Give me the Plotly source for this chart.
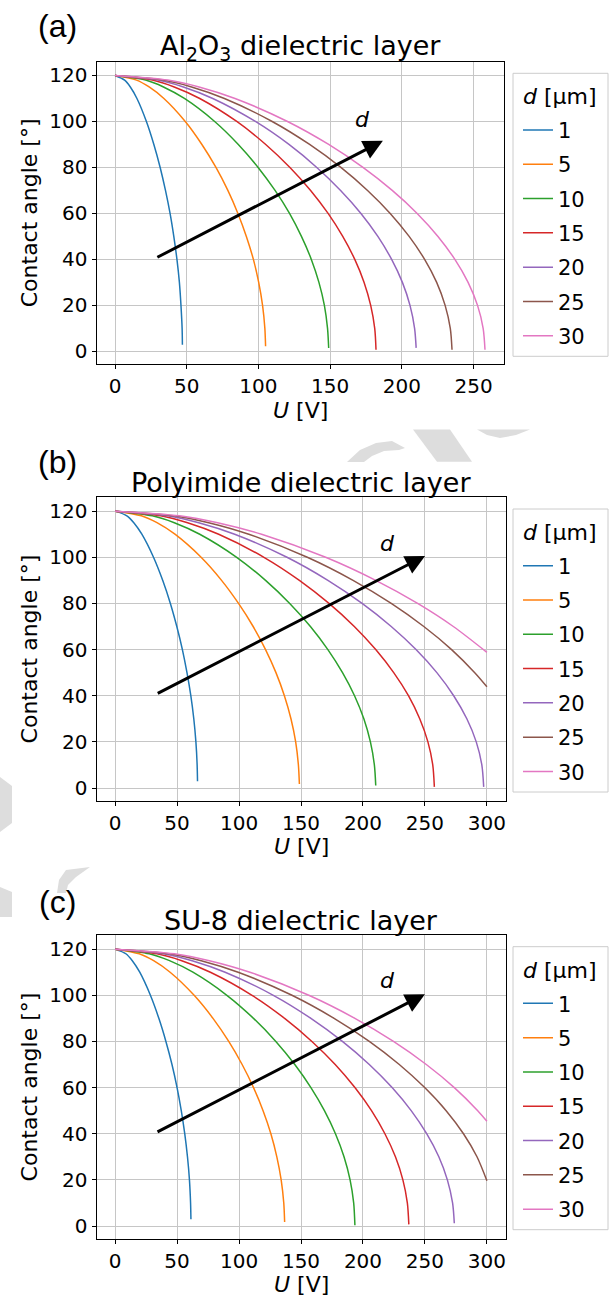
import plotly.graph_objects as go

# ---------------- data ----------------
thickness_um = [1, 5, 10, 15, 20, 25, 30]
colors = ["#1f77b4", "#ff7f0e", "#2ca02c", "#d62728", "#9467bd", "#8c564b", "#e377c2"]

angle_steps = [120, 118, 115, 110, 100, 90, 80, 70, 60, 50, 40, 30, 20, 10]

# ---- (a) Al2O3 ----
al2o3_voltage = [
    [0, 6.7, 10.7, 15.3, 21.9, 27.1, 31.5, 35.2, 38.4, 41.0, 43.2, 44.9, 46.0, 46.8, 47.0],
    [0, 15.0, 23.8, 34.1, 49.0, 60.6, 70.4, 78.7, 85.7, 91.6, 96.5, 100.2, 102.9, 104.5, 105.0],
    [0, 21.3, 33.8, 48.4, 69.5, 86.0, 99.8, 111.6, 121.7, 130.0, 136.9, 142.2, 146.0, 148.2, 149.0],
    [0, 26.0, 41.3, 59.1, 84.9, 105.1, 122.0, 136.4, 148.6, 158.8, 167.2, 173.7, 178.3, 181.1, 182.0],
    [0, 30.0, 47.7, 68.2, 97.9, 121.3, 140.7, 157.3, 171.5, 183.3, 192.9, 200.4, 205.7, 208.9, 210.0],
    [0, 33.5, 53.4, 76.3, 109.6, 135.7, 157.5, 176.1, 191.9, 205.1, 215.9, 224.3, 230.2, 233.8, 235.0],
    [0, 36.8, 58.6, 83.7, 120.3, 149.0, 172.9, 193.3, 210.7, 225.2, 237.0, 246.2, 252.8, 256.7, 258.0],
]
al2o3_end_angle = [2.9, 2.2, 1.5, 0.7, 1.5, 0.7, 0.7]

# ---- (b) Polyimide ----
polyimide_voltage = [
    [0, 9.5, 15.1, 21.6, 31.0, 38.4, 44.6, 49.8, 54.3, 58.0, 61.1, 63.5, 65.2, 66.2, 66.5],
    [0, 21.2, 33.8, 48.3, 69.4, 85.9, 99.6, 111.4, 121.4, 129.8, 136.6, 141.9, 145.7, 147.9, 148.7],
    [0, 30.0, 47.8, 68.3, 98.1, 121.4, 140.9, 157.6, 171.7, 183.5, 193.2, 200.7, 206.0, 209.2, 210.3],
    [0, 36.8, 58.5, 83.6, 120.1, 148.7, 172.6, 193.0, 210.3, 224.8, 236.7, 245.8, 252.4, 256.3, 257.6],
    [0, 42.4, 67.5, 96.5, 138.7, 171.7, 199.3, 222.8, 242.8, 259.6, 273.2, 283.8, 291.4, 295.9, 297.4],
    [0, 47.4, 75.5, 107.9, 155.1, 192.0, 222.8, 249.1, 271.5, 290.2, 300.0],
    [0, 52.0, 82.7, 118.2, 169.9, 210.3, 244.1, 272.9, 300.0],
]
polyimide_end_angle = [2.9, 1.7, 1.1, 0.5, 0.5, 43.9, 58.8]

# ---- (c) SU-8 ----
su8_voltage = [
    [0, 8.7, 13.9, 19.9, 28.5, 35.3, 41.0, 45.9, 50.0, 53.4, 56.2, 58.4, 60.0, 60.9, 61.2],
    [0, 19.5, 31.1, 44.4, 63.8, 79.0, 91.7, 102.5, 111.7, 119.4, 125.7, 130.5, 134.0, 136.1, 136.8],
    [0, 27.6, 43.9, 62.8, 90.2, 111.7, 129.7, 145.0, 158.0, 168.9, 177.8, 184.7, 189.6, 192.5, 193.5],
    [0, 33.8, 53.8, 76.9, 110.5, 136.8, 158.8, 177.6, 193.5, 206.9, 217.7, 226.2, 232.2, 235.8, 237.0],
    [0, 39.1, 62.2, 88.8, 127.7, 158.0, 183.4, 205.1, 223.5, 238.9, 251.4, 261.2, 268.1, 272.3, 273.7],
    [0, 43.7, 69.5, 99.3, 142.7, 176.7, 205.1, 229.3, 249.8, 267.1, 281.1, 292.0, 300.0],
    [0, 47.8, 76.1, 108.8, 156.3, 193.5, 224.6, 251.1, 273.7, 292.6, 300.0],
]
su8_end_angle = [2.9, 1.7, 0.3, 0.7, 1.2, 19.6, 45.4]

panel_titles = ["Al<sub>2</sub>O<sub>3</sub> dielectric layer",
                "Polyimide dielectric layer",
                "SU-8 dielectric layer"]
panel_labels = ["(a)", "(b)", "(c)"]
legend_title = "<i>d</i> [µm]"
x_ranges = [[-12.9, 270.9], [-15, 315], [-15, 315]]
y_range = [-5.5, 126]

# arrow tail / head and "d" label positions, in data units
arrow_tail = [(28.5, 40.6), (33.2, 40.7), (33.0, 40.5)]
arrow_head = [(186.8, 91.6), (250.1, 100.6), (250.0, 100.5)]
arrow_label = [(172.8, 101), (220, 106), (220, 106.5)]

# ---------------- layout geometry (pixels) ----------------
W, H = 611, 1300
plot_left = 96.5
plot_rights = [503.5, 505.5, 505.5]
plot_tops = [61.7, 497.3, 935.3]
plot_bottoms = [364.0, 800.7, 1238.7]
legend_box_x = (513, 608)
legend_box_tops = [73.3, 509, 946.7]
legend_box_h = 283
label_y = [26, 462, 902]

FONT = "DejaVu Sans"

fig = go.Figure()
datasets = [(al2o3_voltage, al2o3_end_angle),
            (polyimide_voltage, polyimide_end_angle),
            (su8_voltage, su8_end_angle)]

for p, (volts, ends) in enumerate(datasets):
    sfx = "" if p == 0 else str(p + 1)
    leg = "legend" + sfx
    for i, d in enumerate(thickness_um):
        u = volts[i]
        ang = angle_steps[:len(u) - 1] + [ends[i]]
        fig.add_trace(go.Scatter(
            x=u, y=ang, mode="lines", name=str(d),
            line=dict(color=colors[i], width=1.5, shape="spline", smoothing=0.8),
            xaxis="x" + sfx, yaxis="y" + sfx, legend=leg,
            legendgroup=f"g{p}_{i}", hoverinfo="skip"))

layout = dict(
    width=W, height=H, margin=dict(l=0, r=0, t=0, b=0, autoexpand=False),
    paper_bgcolor="white", plot_bgcolor="white",
    font=dict(family=FONT, size=20, color="black"),
    showlegend=True,
)


def px(x, y):
    return x / W, 1 - y / H


annotations = []
shapes = []
for p in range(3):
    sfx = "" if p == 0 else str(p + 1)
    xd = [plot_left / W, plot_rights[p] / W]
    yd = [1 - plot_bottoms[p] / H, 1 - plot_tops[p] / H]
    axis_common = dict(showline=True, linecolor="black", linewidth=1, mirror=True,
                       ticks="outside", ticklen=4, tickcolor="black", tickwidth=1,
                       showgrid=True, gridcolor="#c6c6c6", gridwidth=1, automargin=False,
                       zeroline=False, tickfont=dict(family=FONT, size=20, color="black"))
    layout["xaxis" + sfx] = dict(domain=xd, anchor="y" + sfx, range=x_ranges[p],
                                 tickmode="linear", tick0=0, dtick=50, **axis_common)
    layout["yaxis" + sfx] = dict(domain=yd, anchor="x" + sfx, range=y_range,
                                 tickmode="linear", tick0=0, dtick=20, **axis_common)
    top = legend_box_tops[p]
    layout["legend" + sfx] = dict(
        x=518 / W, y=1 - (top + 36.5) / H, xanchor="left", yanchor="top",
        borderwidth=0, bgcolor="rgba(0,0,0,0)",
        font=dict(family=FONT, size=21), tracegroupgap=4, traceorder="grouped",
        itemwidth=30)
    # legend frame + title
    x0, y0 = px(legend_box_x[0], top)
    x1, y1 = px(legend_box_x[1], top + legend_box_h)
    shapes.append(dict(type="rect", xref="paper", yref="paper", x0=x0, x1=x1, y0=y0, y1=y1,
                       line=dict(color="#cccccc", width=1), fillcolor="white", layer="below"))
    annotations.append(dict(text=legend_title, x=559.7 / W, y=1 - (top + 23.4) / H,
                            xref="paper", yref="paper", showarrow=False,
                            xanchor="center", yanchor="middle",
                            font=dict(family=FONT, size=22, color="black")))

    cx = (plot_left + plot_rights[p]) / 2 / W
    annotations.append(dict(text=panel_labels[p], x=57 / W, y=1 - label_y[p] / H,
                            xref="paper", yref="paper", showarrow=False,
                            xanchor="center", yanchor="middle",
                            font=dict(family="Liberation Sans", size=32, color="black")))
    annotations.append(dict(text=panel_titles[p], x=cx, y=1 - (plot_tops[p] - 14.5) / H,
                            xref="paper", yref="paper", showarrow=False,
                            xanchor="center", yanchor="middle",
                            font=dict(family=FONT, size=27, color="black")))
    annotations.append(dict(text="Contact angle [°]", x=29.4 / W,
                            y=1 - (plot_tops[p] + plot_bottoms[p]) / 2 / H,
                            xref="paper", yref="paper", showarrow=False, textangle=-90,
                            xanchor="center", yanchor="middle",
                            font=dict(family=FONT, size=22, color="black")))
    annotations.append(dict(text="<i>U</i> [V]", x=cx, y=1 - (plot_bottoms[p] + 46) / H,
                            xref="paper", yref="paper", showarrow=False,
                            xanchor="center", yanchor="middle",
                            font=dict(family=FONT, size=22, color="black")))
    annotations.append(dict(text="", x=arrow_head[p][0], y=arrow_head[p][1],
                            ax=arrow_tail[p][0], ay=arrow_tail[p][1],
                            xref="x" + sfx, yref="y" + sfx, axref="x" + sfx, ayref="y" + sfx,
                            showarrow=True, arrowhead=2, arrowsize=1.3, arrowwidth=3,
                            arrowcolor="black"))
    annotations.append(dict(text="<i>d</i>", x=arrow_label[p][0], y=arrow_label[p][1],
                            xref="x" + sfx, yref="y" + sfx, showarrow=False,
                            xanchor="center", yanchor="middle",
                            font=dict(family=FONT, size=22, color="black")))

layout["annotations"] = annotations

# faint background watermark fragments visible between the panels
watermark_paths_px = [
    [(347, 462), (360, 450), (376, 443), (392, 441), (405, 448), (399, 450), (384, 451), (372, 456), (364, 462)],
    [(413, 429.5), (450, 429.5), (472, 461.7), (437, 461.7)],
    [(477, 429.5), (530, 429.5), (516, 435), (500, 438), (487, 435)],
    [(0, 777), (12, 786), (12, 823), (0, 832)],
    [(0, 887), (12, 892), (12, 917), (0, 917)],
    [(57, 893), (59, 880), (66, 870), (90, 867), (76, 877), (68, 885), (66, 893)],
]
for poly in watermark_paths_px:
    pts = [px(x, y) for x, y in poly]
    path = "M " + " L ".join(f"{a:.5f},{b:.5f}" for a, b in pts) + " Z"
    shapes.append(dict(type="path", xref="paper", yref="paper", path=path,
                       fillcolor="#dddddd", line=dict(width=0), layer="below"))
layout["shapes"] = shapes

fig.update_layout(**layout)
fig.write_html("out.html", config={"displayModeBar": False},
               post_script="document.body.style.margin='0';"
                           "document.body.style.overflow='hidden';")
